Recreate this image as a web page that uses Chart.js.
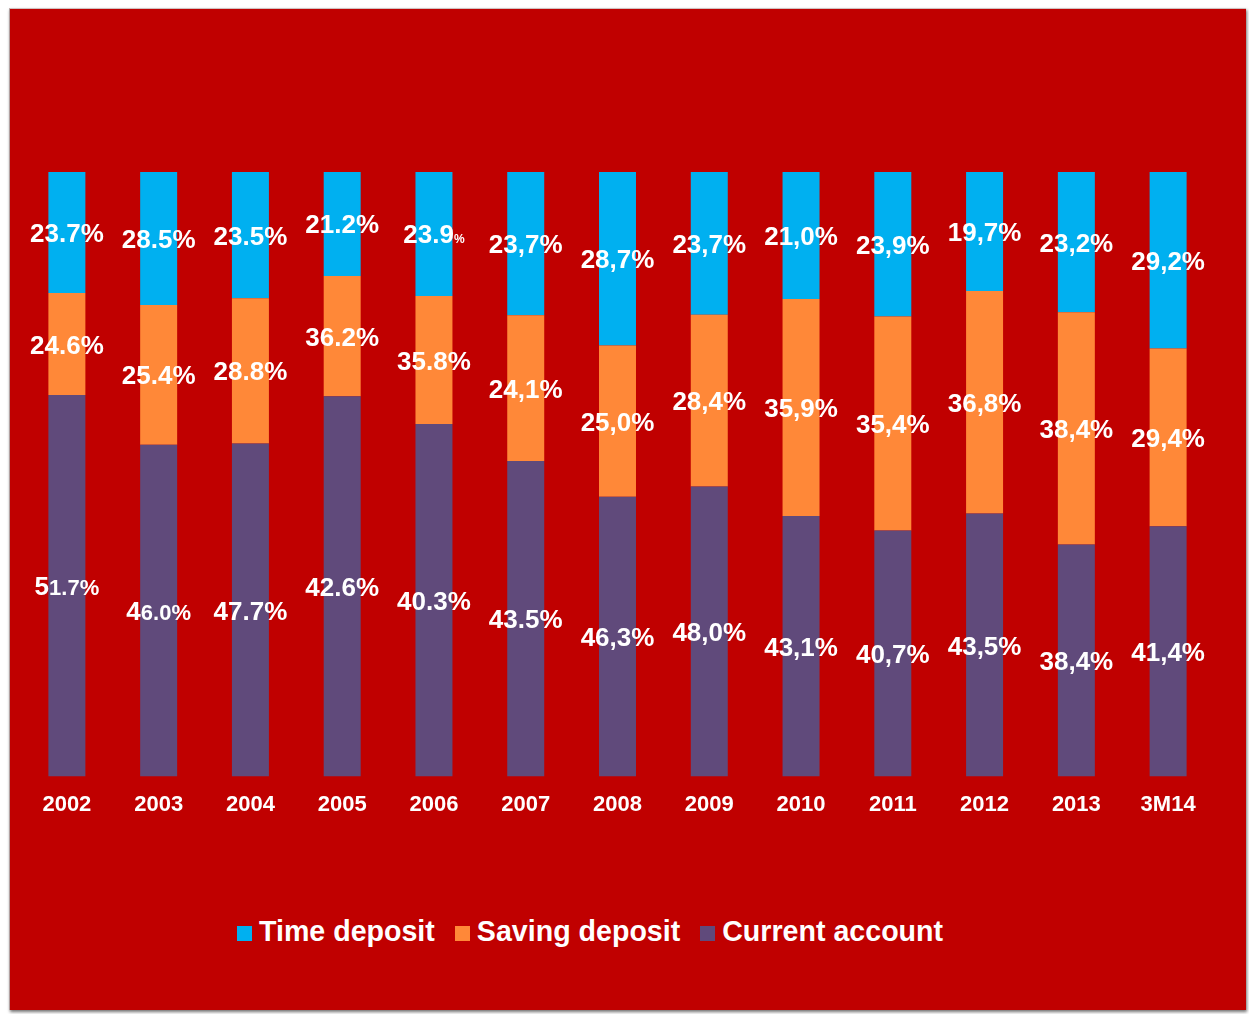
<!DOCTYPE html>
<html>
<head>
<meta charset="utf-8">
<script src="https://cdn.jsdelivr.net/npm/chart.js@4.4.1/dist/chart.umd.min.js"></script>
<style>
  html, body { margin: 0; padding: 0; background: #ffffff; width: 1249px; height: 1014px; overflow: hidden; }
  #panel { position: absolute; left: 9px; top: 8px; width: 1237px; height: 1002px; background: #C00000;
           box-shadow: 1px 2px 3px rgba(0,0,0,0.55); border-left: 1px solid #b0a0a0; border-top: 1px solid #d0c0c0; box-sizing: border-box; }
  #chart { position: absolute; left: 0; top: 0; }
  #legend { position: absolute; left: 227px; top: 908px; display: flex; align-items: center;
            font-family: "Liberation Sans", Arial, sans-serif; font-weight: bold; font-size: 28.6px; color: #ffffff; line-height: 29px; }
  .item { display: flex; align-items: center; margin-right: 20px; white-space: nowrap; }
  .sw { width: 15px; height: 15px; margin-right: 7px; margin-top: 4px; }
</style>
</head>
<body>
<div id="panel">
  <canvas id="chart" width="1236" height="830"></canvas>
  <div id="legend"></div>
</div>
<script>
// Categories
const categories = ['2002','2003','2004','2005','2006','2007','2008','2009','2010','2011','2012','2013','3M14'];

// Segment shares (%) as drawn by the bars
const currentAccount = [63.1, 54.9, 55.1, 62.9, 58.3, 52.2, 46.3, 48.0, 43.1, 40.7, 43.5, 38.4, 41.4];
const savingDeposit  = [16.9, 23.1, 24.0, 19.9, 21.2, 24.1, 25.0, 28.4, 35.9, 35.4, 36.8, 38.4, 29.4];
const timeDeposit    = [20.0, 22.0, 20.9, 17.2, 20.5, 23.7, 28.7, 23.6, 21.0, 23.9, 19.7, 23.2, 29.2];

// Printed value labels (as shown in the source)
const currentLabels = ['51.7%','46.0%','47.7%','42.6%','40.3%','43.5%','46,3%','48,0%','43,1%','40,7%','43,5%','38,4%','41,4%'];
const savingLabels  = ['24.6%','25.4%','28.8%','36.2%','35.8%','24,1%','25,0%','28,4%','35,9%','35,4%','36,8%','38,4%','29,4%'];
const timeLabels    = ['23.7%','28.5%','23.5%','21.2%','23.9%','23,7%','28,7%','23,7%','21,0%','23,9%','19,7%','23,2%','29,2%'];

// Character index from which a label is printed in a smaller type (null = none)
const currentSmallFrom = [1, 1, null, null, null, null, null, null, null, null, null, null, null];
const savingSmallFrom  = [null, null, null, null, null, null, null, null, null, null, null, null, null];
const timeSmallFrom    = [null, null, null, null, 4, null, null, null, null, null, null, null, null];

const seriesNames = ['Current account', 'Saving deposit', 'Time deposit'];
const colors = ['#604A7B', '#FF8838', '#00B0F0'];

const FONT = '"Liberation Sans", Arial, sans-serif';

const labelPlugin = {
  id: 'segLabels',
  afterDatasetsDraw(chart) {
    const ctx = chart.ctx;
    const labelSets = [currentLabels, savingLabels, timeLabels];
    const smallSets = [currentSmallFrom, savingSmallFrom, timeSmallFrom];
    ctx.save();
    ctx.fillStyle = '#ffffff';
    ctx.textBaseline = 'alphabetic';
    ctx.textAlign = 'left';
    chart.data.datasets.forEach((ds, di) => {
      const meta = chart.getDatasetMeta(di);
      meta.data.forEach((el, i) => {
        const txt = labelSets[di][i];
        const sf = smallSets[di][i];
        const big = sf == null ? txt : txt.slice(0, sf);
        const small = sf == null ? '' : txt.slice(sf);
        const bigFont = 'bold 26px ' + FONT;
        const smallFont = (sf === 4 ? 'bold 12px ' : 'bold 22px ') + FONT;
        ctx.font = bigFont;
        const wb = ctx.measureText(big).width;
        ctx.font = smallFont;
        const ws = small ? ctx.measureText(small).width : 0;
        const total = wb + ws;
        const cy = (el.y + el.base) / 2;
        const baseline = cy + 9.5;
        let x = el.x - total / 2;
        ctx.font = bigFont;
        ctx.fillText(big, x, baseline);
        if (small) {
          ctx.font = smallFont;
          ctx.fillText(small, x + wb, baseline);
        }
      });
    });
    ctx.restore();
  }
};

const datasets = [currentAccount, savingDeposit, timeDeposit].map((d, i) => ({
  label: seriesNames[i],
  data: d,
  backgroundColor: colors[i],
  borderWidth: 0,
  barPercentage: 0.403,
  categoryPercentage: 1.0
}));

const chart = new Chart(document.getElementById('chart'), {
  type: 'bar',
  data: { labels: categories, datasets },
  options: {
    responsive: false,
    animation: false,
    layout: { padding: { left: 11, right: 32, top: 163, bottom: 6 } },
    plugins: { legend: { display: false }, tooltip: { enabled: false } },
    scales: {
      x: {
        stacked: true,
        grid: { display: false, drawTicks: false },
        border: { display: false },
        ticks: { color: '#ffffff', padding: 15, font: { family: FONT, weight: 'bold', size: 22 } }
      },
      y: { stacked: true, display: false, min: 0, max: 100 }
    }
  },
  plugins: [labelPlugin]
});

// Legend (reversed order: Time, Saving, Current)
const legend = document.getElementById('legend');
[2, 1, 0].forEach(i => {
  const item = document.createElement('div');
  item.className = 'item';
  const sw = document.createElement('div');
  sw.className = 'sw';
  sw.style.background = colors[i];
  const t = document.createElement('span');
  t.textContent = chart.data.datasets[i].label;
  item.appendChild(sw);
  item.appendChild(t);
  legend.appendChild(item);
});
</script>
</body>
</html>
